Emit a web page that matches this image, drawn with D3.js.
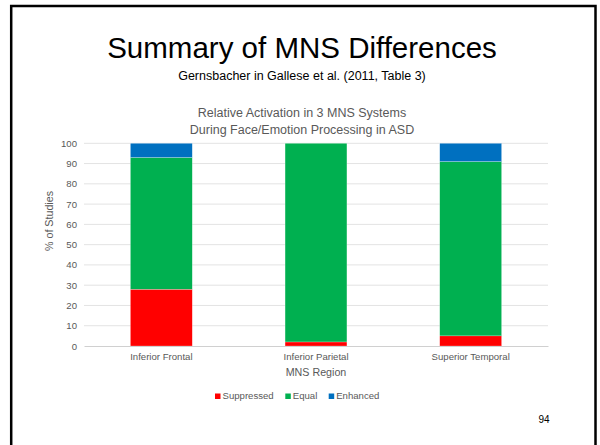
<!DOCTYPE html>
<html>
<head>
<meta charset="utf-8">
<script src="https://cdn.jsdelivr.net/npm/d3@7/dist/d3.min.js"></script>
<style>
  html, body { margin: 0; padding: 0; background: #fff; }
  svg { display: block; font-family: "Liberation Sans", Arial, sans-serif; }
</style>
</head>
<body>
<svg id="chart" width="600" height="445"></svg>
<script>
// MNS regions and the share of studies in each activation category
const regions = ["Inferior Frontal", "Inferior Parietal", "Superior Temporal"];
const suppressed = [28, 2, 5];
const equal = [65, 98, 86];
const enhanced = [7, 0, 9];
const seriesNames = ["Suppressed", "Equal", "Enhanced"];
const seriesColors = ["#FF0000", "#00B050", "#0070C0"];
const yTicks = [0, 10, 20, 30, 40, 50, 60, 70, 80, 90, 100];

const svg = d3.select("#chart");

// slide frame
svg.append("rect")
  .attr("x", 11.2).attr("y", 6)
  .attr("width", 584.3).attr("height", 460)
  .attr("fill", "none").attr("stroke", "#000").attr("stroke-width", 2.5);

// slide title and source line
svg.append("text")
  .attr("x", 302).attr("y", 58)
  .attr("text-anchor", "middle")
  .attr("font-size", 29.5).attr("fill", "#000")
  .text("Summary of MNS Differences");
svg.append("text")
  .attr("x", 302).attr("y", 80)
  .attr("text-anchor", "middle")
  .attr("font-size", 12.5).attr("fill", "#000")
  .text("Gernsbacher in Gallese et al. (2011, Table 3)");

// chart title
const chartTitle = ["Relative Activation in 3 MNS Systems", "During Face/Emotion Processing in ASD"];
svg.append("g").selectAll("text").data(chartTitle).join("text")
  .attr("x", 302).attr("y", (d, i) => 117 + i * 17)
  .attr("text-anchor", "middle")
  .attr("font-size", 12.5).attr("fill", "#595959")
  .text(d => d);

// plot area
const plot = { left: 84, right: 548, top: 143.3, bottom: 346 };

const x = d3.scaleBand()
  .domain(regions)
  .range([plot.left, plot.right])
  .paddingInner(0.6).paddingOuter(0.3);

const y = d3.scaleLinear()
  .domain([0, 100])
  .range([plot.bottom, plot.top]);

// gridlines
svg.append("g").selectAll("line").data(yTicks.filter(t => t > 0)).join("line")
  .attr("x1", plot.left).attr("x2", plot.right)
  .attr("y1", d => y(d)).attr("y2", d => y(d))
  .attr("stroke", "#e3e3e3").attr("stroke-width", 1);

// y axis labels
const yAxis = svg.append("g")
  .attr("transform", `translate(${plot.left},0)`)
  .call(d3.axisLeft(y).tickValues(yTicks).tickSize(0).tickPadding(7));
yAxis.select(".domain").remove();
yAxis.selectAll("text")
  .attr("font-family", "Liberation Sans, Arial, sans-serif")
  .attr("font-size", 9.6).attr("fill", "#595959");

// stacked bars
const rows = regions.map((r, i) => ({
  region: r,
  Suppressed: suppressed[i],
  Equal: equal[i],
  Enhanced: enhanced[i]
}));
const stack = d3.stack().keys(seriesNames)(rows);

svg.append("g").selectAll("g").data(stack).join("g")
  .attr("fill", (d, i) => seriesColors[i])
  .selectAll("rect").data(d => d).join("rect")
  .attr("x", d => x(d.data.region))
  .attr("width", x.bandwidth())
  .attr("y", d => y(d[1]))
  .attr("height", d => y(d[0]) - y(d[1]))
  .attr("stroke", "#ffffff").attr("stroke-width", 0.4).attr("stroke-opacity", 0.6);

// x axis
const xAxis = svg.append("g")
  .attr("transform", `translate(0,${plot.bottom})`)
  .call(d3.axisBottom(x).tickSize(0).tickPadding(7));
xAxis.select(".domain").attr("stroke", "#d0d0d0").attr("stroke-width", 1);
xAxis.selectAll("text")
  .attr("font-family", "Liberation Sans, Arial, sans-serif")
  .attr("font-size", 9.6).attr("fill", "#595959");

// axis titles
svg.append("text")
  .attr("x", (plot.left + plot.right) / 2).attr("y", 376)
  .attr("text-anchor", "middle")
  .attr("font-size", 10.7).attr("fill", "#595959")
  .text("MNS Region");
svg.append("text")
  .attr("transform", "translate(53,221) rotate(-90)")
  .attr("text-anchor", "middle")
  .attr("font-size", 10.7).attr("fill", "#595959")
  .text("% of Studies");

// legend
const legendX = [215, 285.3, 328.7];
const legend = svg.append("g").selectAll("g").data(seriesNames).join("g")
  .attr("transform", (d, i) => `translate(${legendX[i]},396)`);
legend.append("rect")
  .attr("x", 0).attr("y", -2.5).attr("width", 5.5).attr("height", 5.5)
  .attr("fill", (d, i) => seriesColors[i]);
legend.append("text")
  .attr("x", 7.5).attr("y", 3.4)
  .attr("font-size", 9.6).attr("fill", "#595959")
  .text(d => d);

// slide number
svg.append("text")
  .attr("x", 544).attr("y", 423)
  .attr("text-anchor", "middle")
  .attr("font-size", 10).attr("fill", "#000")
  .text("94");
</script>
</body>
</html>
